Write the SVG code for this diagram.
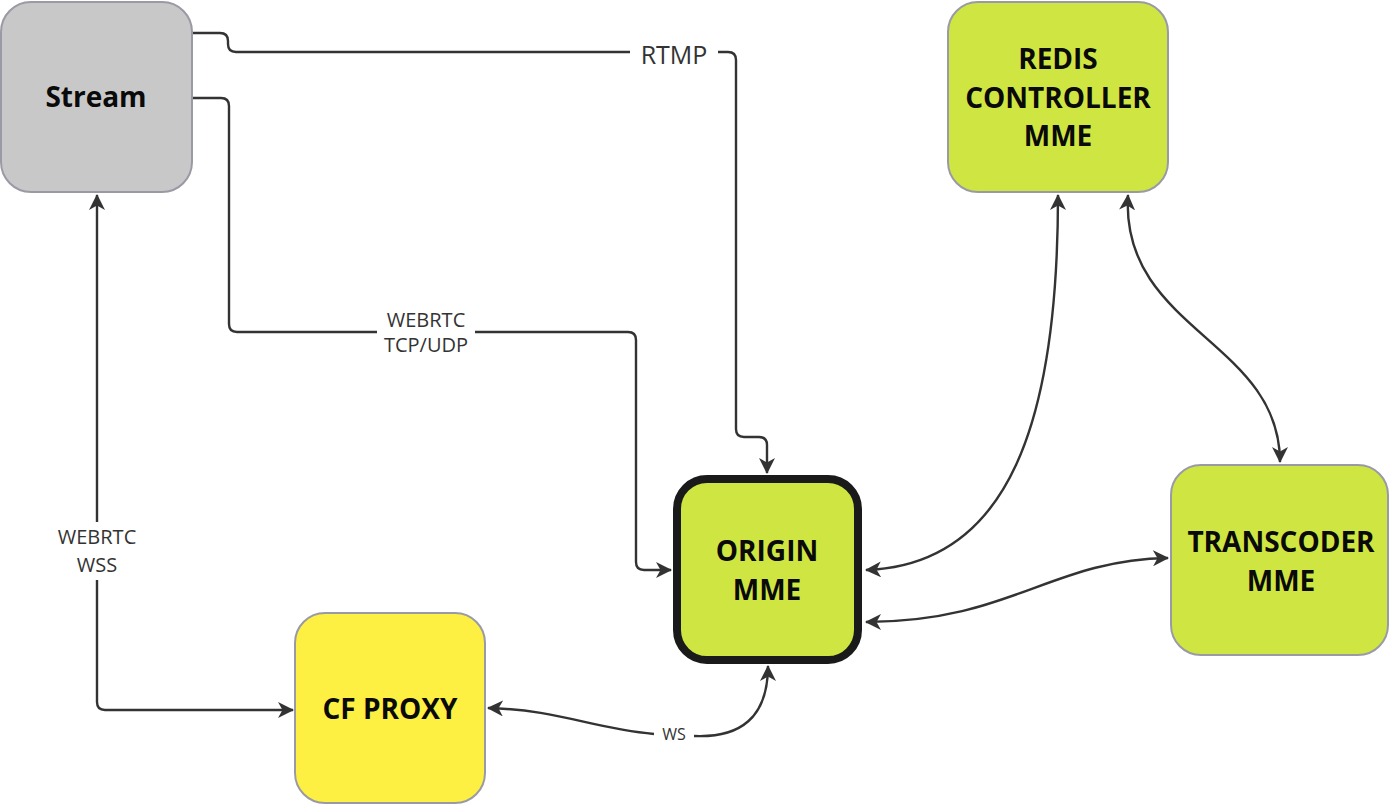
<svg xmlns="http://www.w3.org/2000/svg" width="1389" height="804" viewBox="0 0 1389 804">
<defs>
<marker id="ah" viewBox="0 0 16 16" refX="15" refY="8" markerWidth="16" markerHeight="16" markerUnits="userSpaceOnUse" orient="auto-start-reverse">
<path d="M0,0 L16,8 L0,16 L4.5,8 z" fill="#333"/>
</marker>
<style>
.node{stroke:#9a9aa6;stroke-width:2}
.nt{font-family:"Open Sans","Liberation Sans",sans-serif;font-weight:bold;font-size:28px;fill:#0a0a0a;text-anchor:middle}
.ln{fill:none;stroke:#333;stroke-width:2.4}
.lb{font-family:"Open Sans","Liberation Sans",sans-serif;fill:#333;text-anchor:middle}
</style>
</defs>
<rect width="1389" height="804" fill="#fff"/>
<g id="connectors">
<path class="ln" d="M192,33 H220 Q228,33 228,41 V44 Q228,52 236,52 H630"/>
<path class="ln" d="M718,52 H728 Q736,52 736,60 V429 Q736,437 744,437 H759 Q767,437 767,445 V473" marker-end="url(#ah)"/>
<text class="lb" x="674" y="64" font-size="25">RTMP</text>
<path class="ln" d="M192,98 H221 Q229,98 229,106 V324 Q229,332 237,332 H377"/>
<path class="ln" d="M475,332 H628 Q636,332 636,340 V562 Q636,570 644,570 H671" marker-end="url(#ah)"/>
<text class="lb" x="426" y="327" font-size="20">WEBRTC</text>
<text class="lb" x="426" y="352" font-size="20">TCP/UDP</text>
<path class="ln" d="M97,522 V195" marker-end="url(#ah)"/>
<path class="ln" d="M97,580 V702 Q97,710 105,710 H293" marker-end="url(#ah)"/>
<text class="lb" x="97" y="544" font-size="20">WEBRTC</text>
<text class="lb" x="97" y="572" font-size="20">WSS</text>
<path class="ln" d="M654,734 C590,728 560,710 488,708" marker-end="url(#ah)"/>
<path class="ln" d="M694,736 C740,738 768,718 768,666" marker-end="url(#ah)"/>
<text class="lb" x="674" y="740" font-size="16">WS</text>
<path class="ln" d="M866,570 C1010,565 1058,420 1058,195" marker-start="url(#ah)" marker-end="url(#ah)"/>
<path class="ln" d="M866,622 C1010,622 1050,560 1168,558" marker-start="url(#ah)" marker-end="url(#ah)"/>
<path class="ln" d="M1128,195 C1120,330 1280,340 1280,462" marker-start="url(#ah)" marker-end="url(#ah)"/>
</g>
<g id="stream">
<rect class="node" x="1" y="2" width="191" height="190" rx="30" fill="#c8c8c8"/>
<text class="nt" x="96" y="107">Stream</text>
</g>
<g id="redis">
<rect class="node" x="948" y="2" width="220" height="190" rx="30" fill="#cfe642"/>
<text class="nt" x="1058" y="69">REDIS</text>
<text class="nt" x="1058" y="108">CONTROLLER</text>
<text class="nt" x="1058" y="146">MME</text>
</g>
<g id="origin">
<rect x="677" y="479" width="181" height="181" rx="30" fill="#cfe642" stroke="#1a1a1a" stroke-width="8"/>
<text class="nt" x="767" y="561">ORIGIN</text>
<text class="nt" x="767" y="600">MME</text>
</g>
<g id="transcoder">
<rect class="node" x="1171" y="465" width="217" height="190" rx="30" fill="#cfe642"/>
<text class="nt" x="1281" y="552">TRANSCODER</text>
<text class="nt" x="1281" y="591">MME</text>
</g>
<g id="cfproxy">
<rect class="node" x="295" y="613" width="190" height="190" rx="30" fill="#fdf042"/>
<text class="nt" x="390" y="719">CF PROXY</text>
</g>
</svg>
